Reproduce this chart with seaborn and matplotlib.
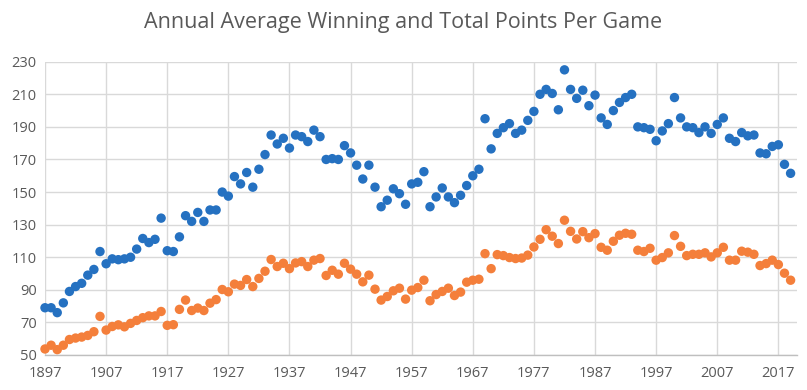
import numpy as np
import pandas as pd
import matplotlib
matplotlib.use("Agg")
import matplotlib.pyplot as plt
import seaborn as sns

years = list(range(1897, 2020))

winning = [
    79, 79, 76, 82, 89, 92, 94, 99, 102.5, 113.5,        # 1897-1906
    106, 109, 108.5, 109, 110, 115, 121.5, 119, 121, 134,  # 1907-1916
    114, 113.5, 122.5, 135.5, 132, 137.5, 132, 139, 139, 150,  # 1917-1926
    147.5, 159.5, 155, 162, 153, 164, 173, 185, 179.5, 183,  # 1927-1936
    177, 185, 184, 181, 188, 184, 170, 170.5, 170, 178.5,  # 1937-1946
    174, 166.5, 158, 166.5, 153, 141, 145, 152, 149, 142.5,  # 1947-1956
    155, 156, 162.5, 141, 147, 152.5, 147, 143.5, 148, 154,  # 1957-1966
    160, 164, 195, 176.5, 186, 189.5, 192, 186, 188, 194,  # 1967-1976
    199.5, 210, 213, 210.5, 200.5, 225, 213, 207.5, 212.5, 203,  # 1977-1986
    209.5, 195.5, 191.5, 200, 205, 208, 210, 190, 189.5, 188.5,  # 1987-1996
    181.5, 187.5, 192, 208, 195.5, 190, 189.5, 186.5, 190, 186,  # 1997-2006
    191.5, 195.5, 183, 181, 186.5, 184.5, 185, 174, 173.5, 178,  # 2007-2016
    179, 167, 161.5,                                      # 2017-2019
]

total = [
    53.7, 56, 53.3, 56, 59.5, 60.4, 61, 62, 64.3, 73.7,    # 1897-1906
    65.3, 67.5, 68.5, 67.3, 69.4, 71.2, 72.9, 74, 74, 76.7,  # 1907-1916
    68.2, 68.6, 78, 83.7, 77.3, 78.8, 77.3, 81.8, 84, 90.2,  # 1917-1926
    88.8, 93.5, 92.7, 96.3, 92, 97, 101.4, 108.6, 104.3, 106.3,  # 1927-1936
    103, 106.5, 107.3, 104.3, 108.2, 109.2, 98.8, 102, 99.6, 106.3,  # 1937-1946
    102.7, 99.6, 94.9, 99, 90.4, 83.7, 85.9, 89.4, 91, 84.3,  # 1947-1956
    89.8, 91.4, 95.9, 83.3, 87.1, 89, 91, 86.5, 88.6, 94.7,  # 1957-1966
    95.9, 96.5, 112.2, 103, 111.6, 111, 109.8, 109.2, 109.5, 111.3,  # 1967-1976
    116.3, 121, 126.9, 122.9, 118.4, 132.7, 125.9, 121.2, 125.7, 122,  # 1977-1986
    124.5, 116.1, 114.3, 119.8, 123.5, 124.7, 124.1, 114.3, 113.5, 115.5,  # 1987-1996
    108.2, 109.8, 112.7, 123.3, 116.7, 111, 111.8, 111.8, 112.7, 110.2,  # 1997-2006
    112.7, 116.1, 108.2, 108.2, 113.7, 113.1, 111.8, 104.9, 106.1, 108.2,  # 2007-2016
    105.5, 100.2, 95.9,                                   # 2017-2019
]

x_ticks = list(range(1897, 2018, 10))
y_ticks = list(range(50, 231, 20))

df = pd.DataFrame({
    "Year": years * 2,
    "Points": winning + total,
    "Series": ["Winning"] * len(years) + ["Total"] * len(years),
})

sns.set_theme(style="white")
plt.rcParams["font.family"] = ["Open Sans", "DejaVu Sans"]

fig = plt.figure(figsize=(8.07, 3.90), dpi=100)
ax = fig.add_axes([45 / 807, 1 - 355 / 390, (796.7 - 45) / 807, (355 - 61.7) / 390])

sns.scatterplot(
    data=df, x="Year", y="Points", hue="Series",
    palette={"Winning": "#2571C1", "Total": "#F47F3B"},
    s=46, edgecolor="none", linewidth=0, legend=False, ax=ax,
    clip_on=False, zorder=3,
)

ax.set_xlim(1897, 2020)
ax.set_ylim(50, 230)
ax.set_xticks(x_ticks)
ax.set_yticks(y_ticks)
ax.set_xlabel("")
ax.set_ylabel("")
ax.grid(True, color="#d9d9d9", linewidth=1.0, zorder=0)
ax.set_axisbelow(True)
for side in ["top", "right", "left"]:
    ax.spines[side].set_visible(False)
ax.spines["bottom"].set_color("#bfbfbf")
ax.spines["bottom"].set_linewidth(1.0)
ax.tick_params(axis="both", length=0, labelsize=10.5, labelcolor="#595959")
ax.tick_params(axis="x", pad=8)
ax.tick_params(axis="y", pad=6)

fig.suptitle("Annual Average Winning and Total Points Per Game",
             x=0.5, y=0.97, fontsize=15.5, color="#595959")

fig.savefig("out.png", dpi=100, facecolor="white")
